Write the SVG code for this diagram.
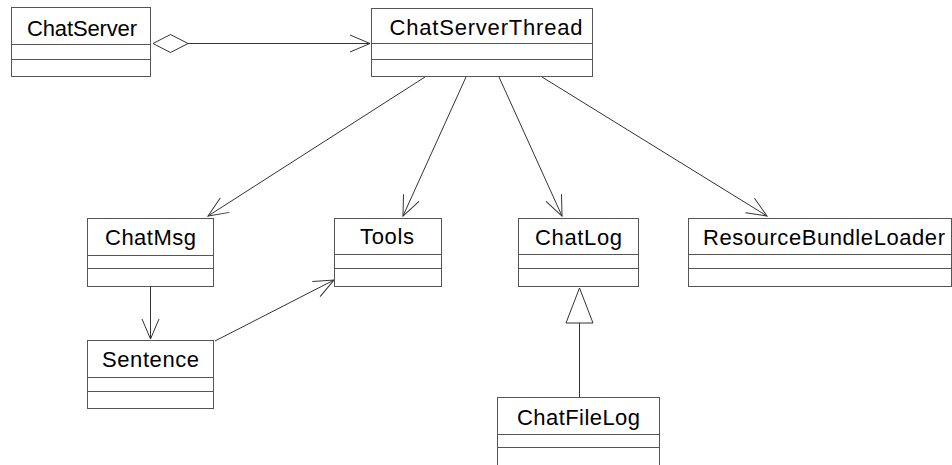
<svg xmlns="http://www.w3.org/2000/svg" width="952" height="465" viewBox="0 0 952 465">
<defs>
<style>
.box{fill:#fff;stroke:#555;stroke-width:1}
.div{stroke:#555;stroke-width:1}
.lbl{font-family:"Liberation Sans",Arial,sans-serif;font-size:22px;fill:#000;text-anchor:middle}
.con{stroke:#333;stroke-width:1;fill:none}
</style>
<marker id="open" markerUnits="userSpaceOnUse" markerWidth="26" markerHeight="22" viewBox="-23 -11 26 22" refX="0" refY="0" orient="auto">
<path d="M-20,-8.5 L0,0 L-20,8.5" fill="none" stroke="#333" stroke-width="1"/>
</marker>
</defs>
<rect width="952" height="465" fill="#fff"/>
<g id="connectors">
<path class="con" d="M153,43.5 L170.5,34.5 L188,43.5 L170.5,52.5 Z" fill="#fff"/>
<line class="con" x1="188" y1="43.5" x2="370" y2="43.5" marker-end="url(#open)"/>
<line class="con" x1="425" y1="77" x2="208" y2="216" marker-end="url(#open)"/>
<line class="con" x1="466" y1="77" x2="403" y2="216" marker-end="url(#open)"/>
<line class="con" x1="499" y1="77" x2="562" y2="216" marker-end="url(#open)"/>
<line class="con" x1="542" y1="77" x2="767" y2="216" marker-end="url(#open)"/>
<line class="con" x1="150.5" y1="287" x2="150.5" y2="339" marker-end="url(#open)"/>
<line class="con" x1="215" y1="341" x2="334" y2="280" marker-end="url(#open)"/>
<line class="con" x1="579.5" y1="397" x2="579.5" y2="323"/>
<polygon class="con" points="579.5,288 566,323 593,323" fill="#fff"/>
</g>
<g id="ChatServer">
<rect class="box" x="11.5" y="7.5" width="139" height="69"/>
<line class="div" x1="11.5" y1="44.5" x2="150.5" y2="44.5"/>
<line class="div" x1="11.5" y1="59.5" x2="150.5" y2="59.5"/>
<text class="lbl" x="82" y="35.5" textLength="110" lengthAdjust="spacing">ChatServer</text>
</g>
<g id="ChatServerThread">
<rect class="box" x="371.5" y="8.5" width="221" height="68"/>
<line class="div" x1="371.5" y1="43.5" x2="592.5" y2="43.5"/>
<line class="div" x1="371.5" y1="59.5" x2="592.5" y2="59.5"/>
<text class="lbl" x="486" y="35" textLength="193" lengthAdjust="spacing">ChatServerThread</text>
</g>
<g id="ChatMsg">
<rect class="box" x="87.5" y="218.5" width="126" height="68"/>
<line class="div" x1="87.5" y1="255.5" x2="213.5" y2="255.5"/>
<line class="div" x1="87.5" y1="268.5" x2="213.5" y2="268.5"/>
<text class="lbl" x="150.5" y="245" textLength="91" lengthAdjust="spacing">ChatMsg</text>
</g>
<g id="Tools">
<rect class="box" x="334.5" y="218.5" width="107" height="68"/>
<line class="div" x1="334.5" y1="254.5" x2="441.5" y2="254.5"/>
<line class="div" x1="334.5" y1="268.5" x2="441.5" y2="268.5"/>
<text class="lbl" x="387" y="244" textLength="54" lengthAdjust="spacing">Tools</text>
</g>
<g id="ChatLog">
<rect class="box" x="518.5" y="218.5" width="120" height="68"/>
<line class="div" x1="518.5" y1="254.5" x2="638.5" y2="254.5"/>
<line class="div" x1="518.5" y1="268.5" x2="638.5" y2="268.5"/>
<text class="lbl" x="578.5" y="244.5" textLength="87" lengthAdjust="spacing">ChatLog</text>
</g>
<g id="ResourceBundleLoader">
<rect class="box" x="688.5" y="218.5" width="263" height="68"/>
<line class="div" x1="688.5" y1="254.5" x2="951.5" y2="254.5"/>
<line class="div" x1="688.5" y1="268.5" x2="951.5" y2="268.5"/>
<text class="lbl" x="824" y="244.5" textLength="242" lengthAdjust="spacing">ResourceBundleLoader</text>
</g>
<g id="Sentence">
<rect class="box" x="87.5" y="340.5" width="126" height="68"/>
<line class="div" x1="87.5" y1="377.5" x2="213.5" y2="377.5"/>
<line class="div" x1="87.5" y1="391.5" x2="213.5" y2="391.5"/>
<text class="lbl" x="150.5" y="367" textLength="97" lengthAdjust="spacing">Sentence</text>
</g>
<g id="ChatFileLog">
<rect class="box" x="497.5" y="397.5" width="162" height="80"/>
<line class="div" x1="497.5" y1="434.5" x2="659.5" y2="434.5"/>
<line class="div" x1="497.5" y1="447.5" x2="659.5" y2="447.5"/>
<text class="lbl" x="578.5" y="425" textLength="123" lengthAdjust="spacing">ChatFileLog</text>
</g>
</svg>
